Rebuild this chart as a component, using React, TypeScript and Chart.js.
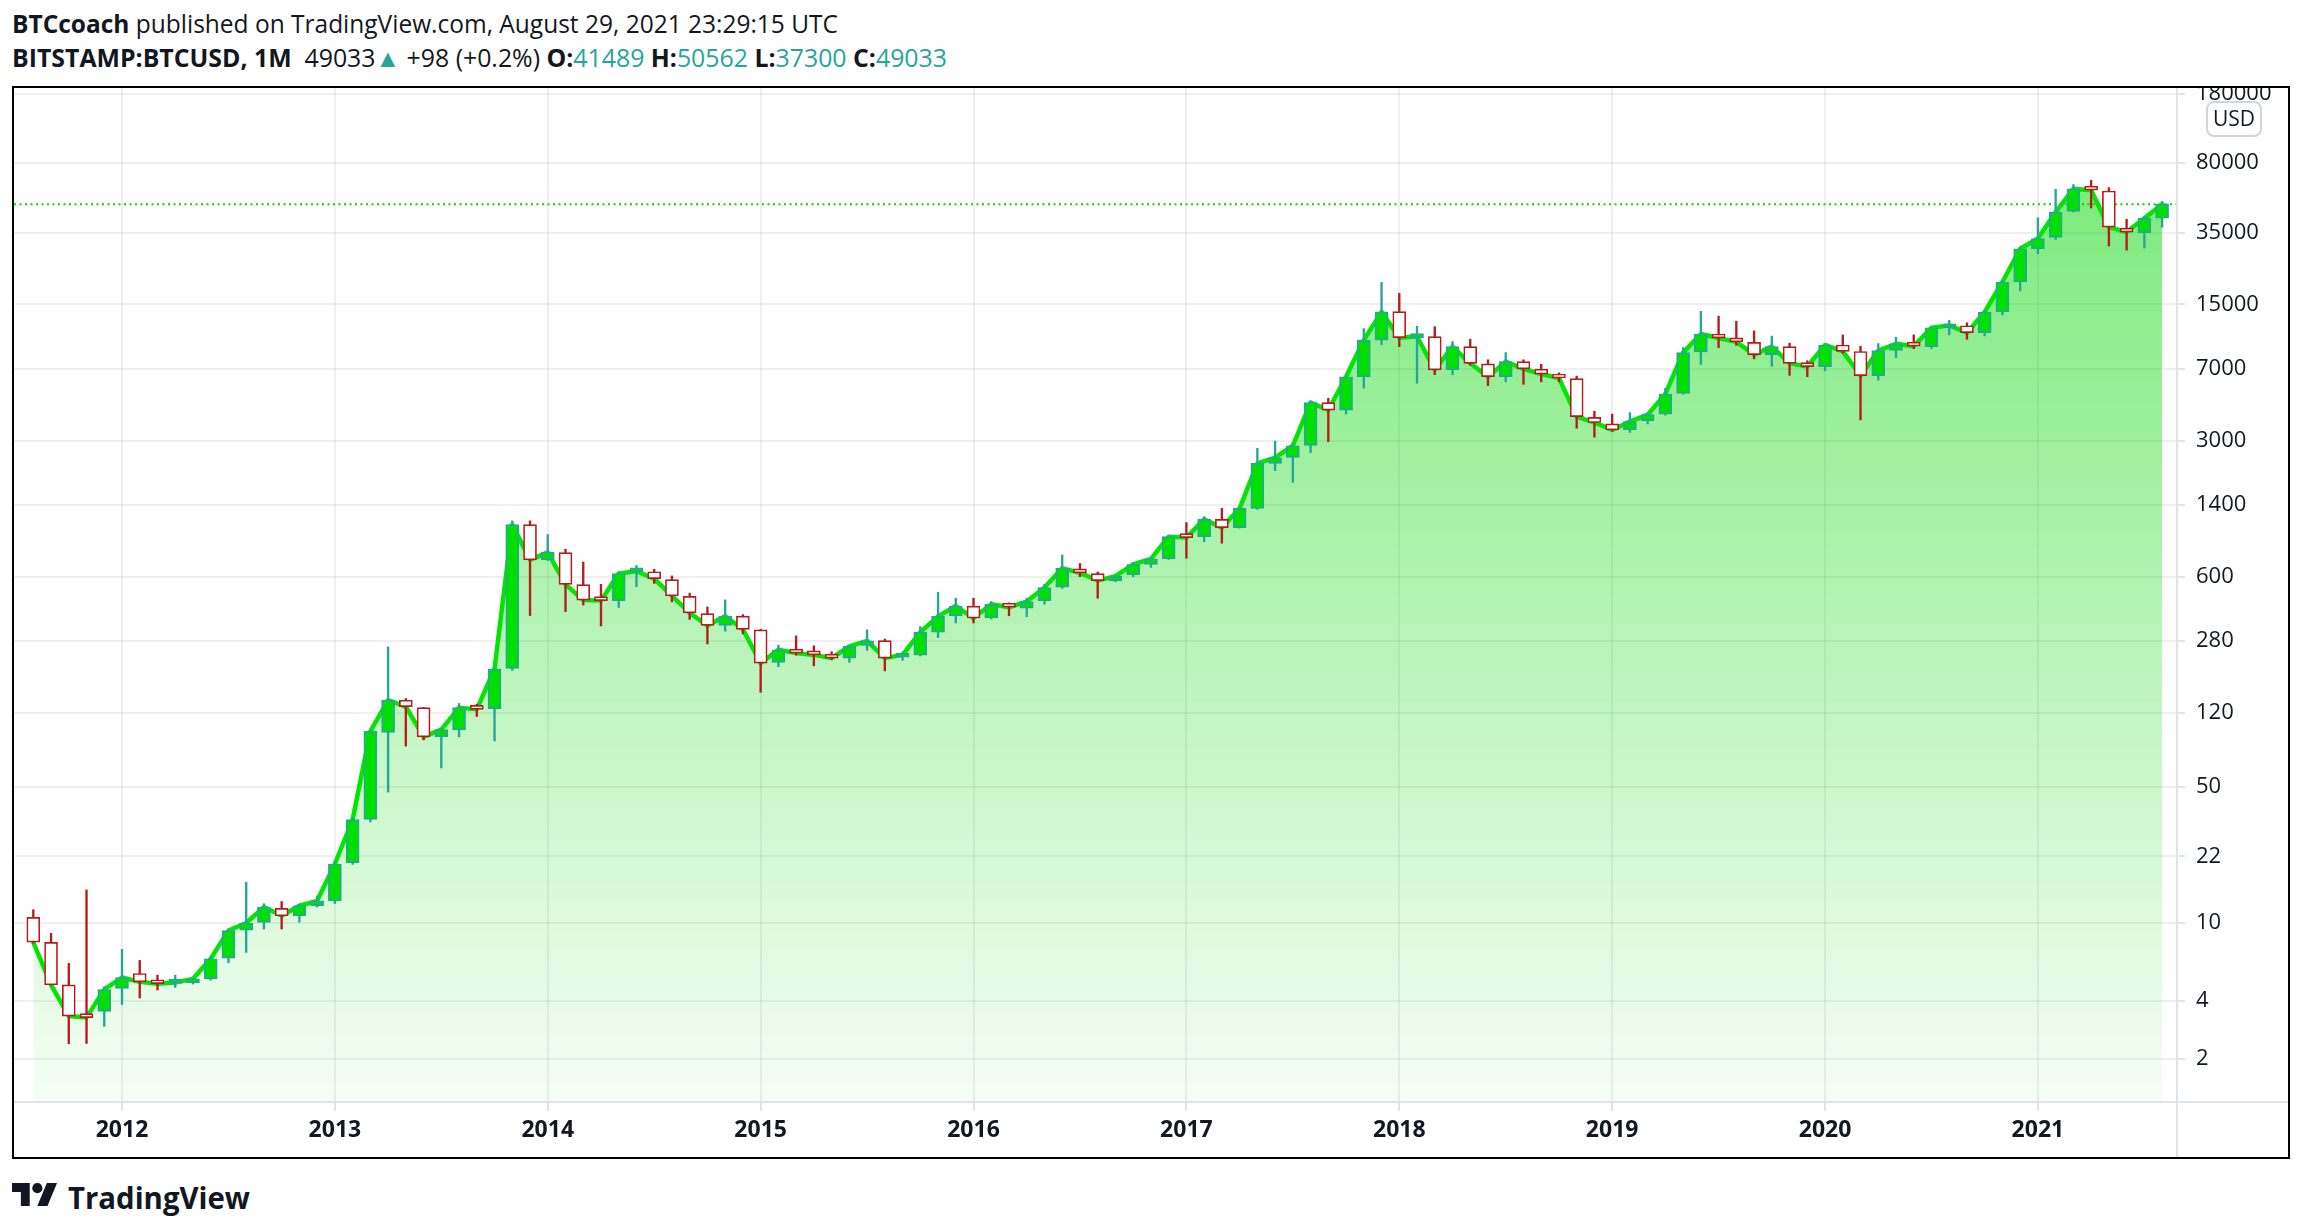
import React, { useEffect, useLayoutEffect, useRef } from "react";
import { Chart, registerables } from "chart.js";

Chart.register(...registerables);

// ---- DATA (monthly BITSTAMP:BTCUSD, Aug 2011 .. Aug 2021; x = month index) ----
const opens = [
  10.7, 7.95, 4.82, 3.36, 3.52,
  4.62, 5.51, 4.95, 4.9, 4.94, 5.17, 6.61, 9.18, 10.08, 11.9, 10.9, 12.27,
  13.0, 20.4, 34.0, 95.2, 139.5, 127.6, 90.6, 98, 127.6, 126, 203, 1110,
  732, 797, 546, 458, 452, 636, 636, 580, 475, 388, 337, 376,
  320, 218, 254, 243, 238, 229, 266, 282, 232, 237, 311, 378,
  424, 368, 435, 414, 452, 530, 657, 622, 571, 612, 693, 740,
  971, 963, 1182, 1071, 1346, 2290, 2456, 2830, 4690, 4300, 6370, 9830,
  13760, 10120, 10250, 6910, 9095, 7420, 6380, 7620, 6970, 6540, 6240, 3940,
  3650, 3400, 3780, 4090, 5230, 8540, 10560, 10000, 9560, 8280, 9100, 7440,
  7190, 9280, 8590, 6460, 8690, 9410, 9100, 11380, 11650, 10730, 13700, 19530,
  28940, 33080, 45030, 58790, 57300, 36750, 35040, 41489,
];
const highs = [
  11.7, 8.86, 6.21, 14.8, 4.71,
  7.32, 6.43, 5.4, 5.4, 5.2, 6.62, 9.25, 16.2, 12.56, 12.9, 12.5, 13.8,
  20.8, 34.5, 97, 262, 142, 128, 99.5, 134, 133, 204, 1160, 1160,
  987, 830, 713, 548, 630, 685, 654, 605, 494, 419, 456, 383,
  322, 267, 298, 265, 247, 265, 320, 287, 246, 333, 499, 465,
  465, 447, 440, 465, 549, 775, 701, 634, 610, 710, 755, 970,
  1137, 1219, 1346, 1350, 2735, 2980, 2880, 4780, 4940, 6450, 11270, 19430,
  17090, 11580, 11530, 9660, 9930, 7790, 8470, 7790, 7380, 6670, 6420, 4240,
  4100, 4170, 4120, 5560, 9000, 13810, 13030, 12270, 10960, 10300, 9480, 7700,
  9430, 10450, 9140, 9430, 10170, 10450, 11430, 12410, 12060, 13800, 19800, 29300,
  41700, 58400, 61800, 64900, 59580, 41000, 42300, 50562,
];
const lows = [
  7.9, 4.8, 2.4, 2.41, 2.95,
  3.82, 4.12, 4.53, 4.67, 4.86, 5.09, 6.26, 7.07, 9.32, 9.32, 10.1, 12.1,
  12.6, 20.0, 33, 47, 81, 87, 62.5, 90.3, 115, 86, 198, 379,
  726, 397, 429, 335, 417, 533, 554, 445, 362, 271, 315, 305,
  153, 207, 237, 209, 225, 218, 251, 197, 223, 235, 292, 347,
  347, 364, 378, 374, 433, 522, 600, 465, 566, 600, 669, 736,
  746, 908, 891, 1065, 1329, 2099, 1830, 2600, 2958, 4100, 5570, 9310,
  9100, 5900, 6530, 6520, 7320, 5740, 6000, 5830, 6000, 6000, 3470, 3120,
  3350, 3300, 3650, 4050, 5180, 7380, 9000, 9240, 7870, 7210, 6480, 6380,
  6830, 8420, 3830, 6120, 8000, 8890, 8890, 10450, 9920, 10330, 13240, 17560,
  27260, 32300, 44700, 46800, 29880, 28490, 29160, 37300,
];
const closes = [
  7.97, 4.82, 3.33, 3.27, 4.56,
  5.25, 4.99, 4.88, 4.95, 5.17, 6.56, 9.14, 10.0, 12.08, 10.9, 12.27, 13.0,
  20.1, 34.0, 96.3, 139.5, 129, 90.3, 98.4, 127.6, 125, 202, 1110, 732,
  800, 548, 455, 452, 623, 640, 586, 478, 391, 337, 376, 322,
  216, 253, 243, 238, 229, 263, 281, 229, 238, 311, 375, 424,
  368, 433, 418, 447, 528, 663, 627, 573, 604, 693, 740, 963,
  952, 1182, 1071, 1346, 2290, 2448, 2820, 4690, 4300, 6370, 9830, 13720,
  10120, 10250, 6910, 9095, 7470, 6380, 7620, 6990, 6580, 6280, 3980, 3710,
  3400, 3750, 4070, 5200, 8480, 10560, 10080, 9620, 8280, 9100, 7470, 7190,
  9280, 8610, 6460, 8680, 9410, 9150, 11380, 11700, 10730, 13700, 19530, 28940,
  32680, 44630, 58790, 57800, 37350, 35250, 41490, 49033,
];

const yearTicks = [5, 17, 29, 41, 53, 65, 77, 89, 101, 113];
const yearLabels = ["2012", "2013", "2014", "2015", "2016", "2017", "2018", "2019", "2020", "2021"];
const priceTicks = [180000, 80000, 35000, 15000, 7000, 3000, 1400, 600, 280, 120, 50, 22, 10, 4, 2];

const lastClose = 49033;

// ---- view range ----
const X_MIN = -1.088;
const X_MAX = 120.84;
const Y_MIN = 1.206;
const Y_MAX = 193500;

const UP_FILL = "#00e000";
const UP_LINE = "#26a69a";
const DOWN_LINE = "#b71c1c";
const AREA_LINE = "#00e600";
const GRID = "rgba(42,46,57,0.075)";
const TEXT = "#131722";
const FONT = "'Open Sans', 'Noto Sans', sans-serif";

const separatorPlugin = {
  id: "tvSeparators",
  afterDraw(chart: any) {
    const { ctx, chartArea, width, height } = chart;
    ctx.save();
    ctx.strokeStyle = "#e0e3eb";
    ctx.lineWidth = 2;
    ctx.beginPath();
    ctx.moveTo(0, chartArea.bottom);
    ctx.lineTo(width, chartArea.bottom);
    ctx.moveTo(chartArea.right, 0);
    ctx.lineTo(chartArea.right, height);
    ctx.stroke();
    ctx.restore();
  },
};

function FitText(props: { left: number; top: number; width: number; style: any; children: any }) {
  const ref = useRef<HTMLDivElement>(null);
  useLayoutEffect(() => {
    const fit = () => {
      const el = ref.current;
      if (!el) return;
      el.style.transform = "none";
      const w = el.getBoundingClientRect().width;
      if (w > 0) el.style.transform = `scaleX(${props.width / w})`;
    };
    fit();
    if ((document as any).fonts && (document as any).fonts.ready) {
      (document as any).fonts.ready.then(fit);
    }
  }, [props.width]);
  return (
    <div
      ref={ref}
      style={{
        position: "absolute",
        left: props.left,
        top: props.top,
        whiteSpace: "nowrap",
        display: "inline-block",
        transformOrigin: "left center",
        ...props.style,
      }}
    >
      {props.children}
    </div>
  );
}

function CandleChart() {
  const canvasRef = useRef<HTMLCanvasElement>(null);

  useEffect(() => {
    const canvas = canvasRef.current;
    if (!canvas) return;
    const isUp = closes.map((c, i) => c >= opens[i]);

    const areaData = closes.map((c, i) => ({ x: i, y: c }));
    const wickData = highs.map((h, i) => ({ x: i, y: [lows[i], h] }));
    const bodyData = closes.map((c, i) => ({
      x: i,
      y: [Math.min(opens[i], c), Math.max(opens[i], c)],
    }));

    const chart = new Chart(canvas, {
      type: "bar",
      data: {
        datasets: [
          {
            type: "line",
            label: "close",
            data: areaData as any,
            borderColor: AREA_LINE,
            borderWidth: 4.5,
            pointRadius: 0,
            tension: 0,
            borderJoinStyle: "round",
            borderCapStyle: "round",
            fill: "start",
            backgroundColor: (ctx: any) => {
              const area = ctx.chart.chartArea;
              if (!area) return "rgba(0,215,0,0.3)";
              const g = ctx.chart.ctx.createLinearGradient(0, area.top, 0, area.bottom);
              g.addColorStop(0, "rgba(0,215,0,0.56)");
              g.addColorStop(1, "rgba(0,215,0,0.04)");
              return g;
            },
            order: 4,
          } as any,
          {
            type: "line",
            label: "last",
            data: [
              { x: X_MIN, y: lastClose },
              { x: X_MAX, y: lastClose },
            ] as any,
            borderColor: "#00dd00",
            borderWidth: 2,
            borderDash: [2, 3.5],
            pointRadius: 0,
            fill: false,
            order: 3,
          } as any,
          {
            type: "bar",
            label: "wick",
            data: wickData as any,
            backgroundColor: isUp.map((u) => (u ? UP_LINE : DOWN_LINE)),
            borderWidth: 0,
            barThickness: 1.7,
            grouped: false,
            order: 2,
          } as any,
          {
            type: "bar",
            label: "body",
            data: bodyData as any,
            backgroundColor: isUp.map((u) => (u ? UP_FILL : "#ffffff")),
            borderColor: isUp.map((u) => (u ? UP_LINE : DOWN_LINE)),
            borderWidth: 1.7,
            borderSkipped: false,
            barThickness: 13,
            minBarLength: 4,
            grouped: false,
            order: 1,
          } as any,
        ],
      },
      options: {
        animation: false,
        responsive: true,
        maintainAspectRatio: false,
        layout: { padding: 0 },
        plugins: {
          legend: { display: false },
          tooltip: { enabled: false },
        },
        scales: {
          x: {
            type: "linear",
            min: X_MIN,
            max: X_MAX,
            offset: false,
            afterBuildTicks: (axis: any) => {
              axis.ticks = yearTicks.map((v) => ({ value: v }));
            },
            afterFit: (axis: any) => {
              axis.height = 55;
              axis.paddingLeft = 0;
              axis.paddingRight = 0;
            },
            grid: {
              color: GRID,
              lineWidth: 2,
              drawTicks: true,
              tickLength: 9,
              tickColor: "#e0e3eb",
              offset: false,
            },
            border: { display: false },
            ticks: {
              autoSkip: false,
              maxRotation: 0,
              minRotation: 0,
              padding: 6,
              color: TEXT,
              font: { family: FONT, size: 23, weight: "bold" },
              callback: (value: any) => {
                const k = yearTicks.indexOf(Number(value));
                return k >= 0 ? yearLabels[k] : "";
              },
            },
          },
          y: {
            type: "logarithmic",
            position: "right",
            min: Y_MIN,
            max: Y_MAX,
            afterBuildTicks: (axis: any) => {
              axis.ticks = priceTicks.map((v) => ({ value: v }));
            },
            afterFit: (axis: any) => {
              axis.width = 111;
              axis.paddingTop = 0;
              axis.paddingBottom = 0;
            },
            grid: {
              color: GRID,
              lineWidth: 2,
              drawTicks: true,
              tickLength: 8,
              tickColor: "#e0e3eb",
            },
            border: { display: false },
            ticks: {
              autoSkip: false,
              padding: 11,
              color: TEXT,
              font: { family: FONT, size: 22 },
              callback: (value: any) => String(value),
            },
          },
        },
      } as any,
      plugins: [separatorPlugin as any],
    });

    return () => chart.destroy();
  }, []);

  return (
    <div style={{ position: "absolute", left: 0, top: 0, width: 2274, height: 1069 }}>
      <canvas ref={canvasRef} />
    </div>
  );
}

function TvLogo() {
  return (
    <svg
      style={{ position: "absolute", left: 12, top: 1183 }}
      width={45}
      height={23}
      viewBox="0 4 35.5 18"
    >
      <path d="M14 22H7V11H0V4h14v18zM28 22h-8l7.5-18h8L28 22z" fill={TEXT} />
      <circle cx="20" cy="8" r="4" fill={TEXT} />
    </svg>
  );
}

export default function App() {
  const teal = "#26a69a";
  const hdr = { fontFamily: FONT, fontSize: 25, lineHeight: "30px", color: TEXT };
  return (
    <div
      style={{
        position: "absolute",
        left: 0,
        top: 0,
        width: 2306,
        height: 1232,
        background: "#ffffff",
        overflow: "hidden",
      }}
    >
      <FitText left={12} top={8} width={826} style={hdr}>
        <b>BTCcoach</b> published on TradingView.com, August 29, 2021 23:29:15 UTC
      </FitText>
      <FitText left={12} top={42} width={935} style={hdr}>
        <b>BITSTAMP:BTCUSD, 1M</b>&nbsp; 49033<span style={{ color: teal }}>▲</span> +98 (+0.2%){" "}
        <b>O:</b>
        <span style={{ color: teal }}>41489</span> <b>H:</b>
        <span style={{ color: teal }}>50562</span> <b>L:</b>
        <span style={{ color: teal }}>37300</span> <b>C:</b>
        <span style={{ color: teal }}>49033</span>
      </FitText>

      <div
        style={{
          position: "absolute",
          left: 12,
          top: 86,
          width: 2278,
          height: 1073,
          border: "2px solid #000",
          boxSizing: "border-box",
          overflow: "hidden",
        }}
      >
        <CandleChart />
        <div
          style={{
            position: "absolute",
            left: 2206 - 14,
            top: 101 - 88,
            width: 56,
            height: 36,
            border: "2px solid #d1d4dc",
            borderRadius: 8,
            boxSizing: "border-box",
            background: "#ffffff",
            color: TEXT,
            fontFamily: FONT,
            fontSize: 21,
            lineHeight: "31px",
            textAlign: "center",
          }}
        >
          USD
        </div>
      </div>

      <TvLogo />
      <FitText
        left={68}
        top={1179}
        width={182}
        style={{ fontFamily: FONT, fontSize: 31, lineHeight: "36px", fontWeight: 700, color: TEXT }}
      >
        TradingView
      </FitText>
    </div>
  );
}
